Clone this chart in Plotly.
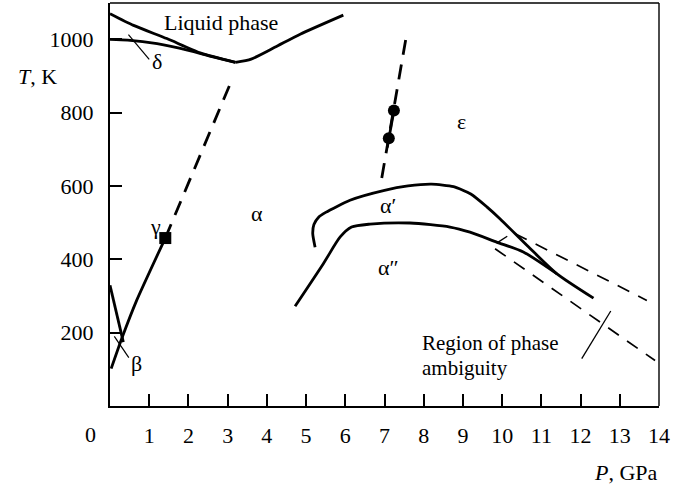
import plotly.graph_objects as go

# Phase boundaries, pressure P in GPa, temperature T in K
liq_left_P = [0, 0.6, 1.45, 2.3, 3.2]
liq_left_T = [1070, 1038, 1002, 963, 937]

delta_P = [0, 0.45, 1.2, 2.0, 2.6, 3.2]
delta_T = [1000, 998, 988, 970, 953, 937]

liq_right_P = [3.2, 3.6, 4.2, 4.85, 5.95]
liq_right_T = [937, 946, 978, 1014, 1066]

gamma_solid_P = [0.03, 0.3, 0.68, 1.41]
gamma_solid_T = [102, 184, 288, 458]
gamma_dash_P = [1.41, 3.13]
gamma_dash_T = [458, 895]
gamma_point_P = [1.41]
gamma_point_T = [458]

beta_P = [0, 0.34]
beta_T = [329, 174]

eps_dash_P = [6.93, 7.57]
eps_dash_T = [622, 1017]
eps_solid_P = [7.07, 7.24]
eps_solid_T = [705, 806]
eps_point_P = [7.11, 7.24]
eps_point_T = [730, 806]

alpha1_P = [5.23, 5.17, 5.2, 5.32, 5.5, 6.12, 7.0, 7.6, 8.2, 8.76, 9.2, 9.61, 9.95, 10.67, 11.39, 12.33]
alpha1_T = [433, 470, 495, 515, 528, 561, 588, 600, 605, 598, 578, 543, 510, 434, 361, 294]

alpha2_P = [4.72, 5.44, 5.87, 6.16, 6.63, 7.65, 8.67, 9.18, 9.86, 10.54, 11.39]
alpha2_T = [272, 388, 461, 488, 496, 499, 488, 474, 447, 420, 361]

amb_upper_P = [10.33, 13.69]
amb_upper_T = [470, 288]
amb_lower_P = [9.82, 13.9]
amb_lower_T = [429, 124]

cross_tick_P = [9.86, 10.13]
cross_tick_T = [444, 463]

amb_pointer_P = [12.03, 12.77]
amb_pointer_T = [129, 259]
delta_pointer_P = [0.47, 1.0]
delta_pointer_T = [1013, 945]
beta_pointer_P = [0.11, 0.48]
beta_pointer_T = [190, 132]

x_ticks = list(range(1, 15))
y_ticks = [200, 400, 600, 800, 1000]

FONT = "Liberation Serif"
BLACK = "black"

fig = go.Figure()


def line(P, T, width=2.8, dash="solid", shape="linear", smooth=None):
    ln = dict(color=BLACK, width=width, dash=dash, shape=shape)
    if smooth is not None:
        ln["smoothing"] = smooth
    fig.add_trace(go.Scatter(x=P, y=T, mode="lines", line=ln,
                             hoverinfo="skip", showlegend=False))


line(liq_left_P, liq_left_T, shape="spline", smooth=0.6)
line(delta_P, delta_T, shape="spline", smooth=0.6)
line(liq_right_P, liq_right_T, shape="spline", smooth=0.6)
line(gamma_solid_P, gamma_solid_T, shape="spline", smooth=0.5)
line(gamma_dash_P, gamma_dash_T, dash="15px,10px")
line(beta_P, beta_T)
line(eps_dash_P, eps_dash_T, dash="15px,10px")
line(eps_solid_P, eps_solid_T)
line(alpha1_P, alpha1_T, shape="spline", smooth=0.6)
line(alpha2_P, alpha2_T, shape="spline", smooth=0.7)
line(amb_upper_P, amb_upper_T, width=1.7, dash="13px,10px")
line(amb_lower_P, amb_lower_T, width=1.7, dash="13px,10px")
line(cross_tick_P, cross_tick_T, width=1.4)
line(amb_pointer_P, amb_pointer_T, width=1.3)
line(delta_pointer_P, delta_pointer_T, width=1.2)
line(beta_pointer_P, beta_pointer_T, width=1.2)

fig.add_trace(go.Scatter(x=gamma_point_P, y=gamma_point_T, mode="markers",
                         marker=dict(symbol="square", size=12, color=BLACK),
                         hoverinfo="skip", showlegend=False))
fig.add_trace(go.Scatter(x=eps_point_P, y=eps_point_T, mode="markers",
                         marker=dict(symbol="circle", size=12, color=BLACK),
                         hoverinfo="skip", showlegend=False))

labels = [
    ("Liquid phase", 2.84, 1047, "center", 22),
    ("δ", 1.2, 940, "center", 22),
    ("γ", 1.16, 490, "center", 22),
    ("β", 0.68, 116, "center", 22),
    ("α", 3.74, 525, "center", 22),
    ("ε", 8.97, 775, "center", 22),
    ("α′", 7.1, 547, "center", 22),
    ("α″", 7.1, 379, "center", 22),
    ("Region of phase", 7.91, 173, "left", 21),
    ("ambiguity", 7.91, 105, "left", 21),
]
for text, px, ty, anchor, size in labels:
    fig.add_annotation(x=px, y=ty, text=text, showarrow=False,
                       xanchor=anchor, yanchor="middle",
                       font=dict(family=FONT, size=size, color=BLACK))

W, H = 673, 485
L, R, T, B = 110, 14, 3, 79

# Axis titles and the shared origin label, placed in pixels
pixel_labels = [
    ("<i>T</i>, K", 37, 77, "center"),
    ("<i>P</i>, GPa", 660, 472, "right"),
    ("0", 90, 435, "center"),
]
for text, x_px, y_px, anchor in pixel_labels:
    fig.add_annotation(x=(x_px - L) / (W - L - R),
                       y=1 - (y_px - T) / (H - T - B),
                       xref="paper", yref="paper", text=text,
                       showarrow=False, xanchor=anchor, yanchor="middle",
                       font=dict(family=FONT, size=22, color=BLACK))

# Thin top and right frame edges
fig.add_shape(type="line", xref="paper", yref="paper", x0=0, x1=1, y0=1, y1=1,
              line=dict(color=BLACK, width=1.4))
fig.add_shape(type="line", xref="paper", yref="paper", x0=1, x1=1, y0=0, y1=1,
              line=dict(color=BLACK, width=1.4))

fig.update_layout(
    width=W, height=H,
    margin=dict(l=L, r=R, t=T, b=B),
    paper_bgcolor="white", plot_bgcolor="white",
    font=dict(family=FONT, size=22, color=BLACK),
    xaxis=dict(range=[0, 14], tickvals=x_ticks, ticktext=[str(v) for v in x_ticks],
               ticks="inside", ticklen=12, tickwidth=2, tickcolor=BLACK,
               showline=True, linewidth=2, linecolor=BLACK, showgrid=False,
               zeroline=False, ticklabelstandoff=9),
    yaxis=dict(range=[0, 1099], tickvals=y_ticks, ticktext=[str(v) for v in y_ticks],
               ticks="inside", ticklen=12, tickwidth=2, tickcolor=BLACK,
               showline=True, linewidth=2, linecolor=BLACK, showgrid=False,
               zeroline=False, ticklabelstandoff=10),
)

fig.write_html("out.html")
